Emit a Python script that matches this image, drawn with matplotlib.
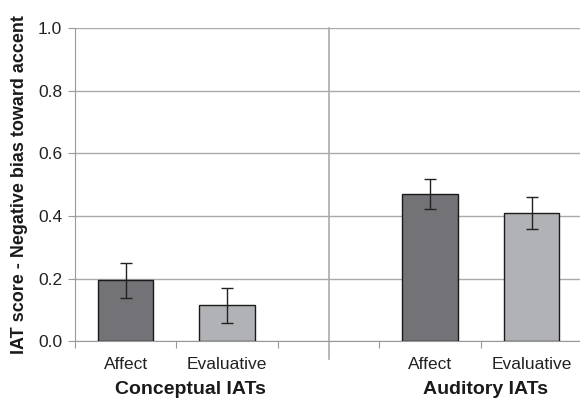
import matplotlib
matplotlib.use("Agg")
import matplotlib.pyplot as plt

# data
categories = ["Affect", "Evaluative", "", "Affect", "Evaluative"]
scores = [0.195, 0.115, None, 0.470, 0.409]
errors = [0.056, 0.056, None, 0.049, 0.051]
bar_colors = ["#737377", "#b1b2b5", None, "#737377", "#b1b2b5"]
groups = ["Conceptual IATs", "Auditory IATs"]
yticks = [0.0, 0.2, 0.4, 0.6, 0.8, 1.0]

plt.rcParams['font.family'] = ['Liberation Sans', 'DejaVu Sans']

fig = plt.figure(figsize=(5.8, 4.03), dpi=100)
ax = fig.add_axes([0.129, 0.153, 0.875, 0.778])

for i, (v, e, c) in enumerate(zip(scores, errors, bar_colors)):
    if v is None:
        continue
    ax.bar(i, v, width=0.55, color=c, edgecolor="#1a1a1a", linewidth=1.0, zorder=3)
    ax.errorbar(i, v, yerr=e, fmt="none", ecolor="#222222", elinewidth=1.0,
                capsize=4, capthick=1.0, zorder=4)

ax.set_xlim(-0.5, 4.5)
ax.set_ylim(0, 1.0)
ax.set_yticks(yticks)
ax.set_yticklabels([f"{t:.1f}" for t in yticks], fontsize=12.5, color="#222222")
ax.yaxis.grid(True, color="#aaaaaa", linewidth=1.0, zorder=0)

# category ticks between slots, labels centred under bars
ax.set_xticks([i - 0.5 for i in range(6)])
ax.set_xticklabels([])
ax.set_xticks(range(5), minor=True)
ax.set_xticklabels(categories, minor=True, fontsize=12.5, color="#222222")
ax.tick_params(axis="x", which="major", length=5, color="#999999")
ax.tick_params(axis="x", which="minor", length=0, pad=11)
ax.tick_params(axis="y", length=5, color="#999999", pad=4)

for s in ["top", "right"]:
    ax.spines[s].set_visible(False)
for s in ["left", "bottom"]:
    ax.spines[s].set_color("#999999")

# separator between the two groups
ax.plot([2, 2], [-0.055, 1.0], color="#aaaaaa", linewidth=1.2, clip_on=False, zorder=1)

ax.text(0.64, -0.155, groups[0], ha="center", va="center", fontsize=14,
        fontweight="bold", transform=ax.get_xaxis_transform(), color="#1a1a1a")
ax.text(3.55, -0.155, groups[1], ha="center", va="center", fontsize=14,
        fontweight="bold", transform=ax.get_xaxis_transform(), color="#1a1a1a")

ax.set_ylabel("IAT score - Negative bias toward accent", fontsize=13,
              fontweight="bold", color="#1a1a1a", labelpad=7)

fig.savefig("out.png", dpi=100)
